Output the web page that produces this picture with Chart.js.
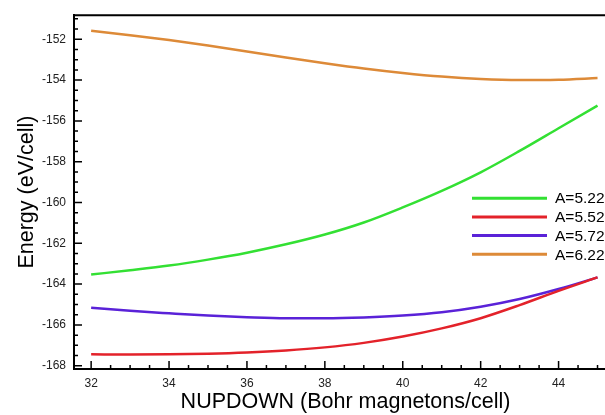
<!DOCTYPE html>
<html>
<head>
<meta charset="utf-8">
<script src="https://cdn.jsdelivr.net/npm/chart.js@4.4.0/dist/chart.umd.min.js"></script>
<style>
  html, body { margin: 0; padding: 0; overflow: hidden; background: #fff; }
  #wrap { position: absolute; left: 0; top: 0; width: 640px; height: 415px; }
</style>
</head>
<body>
<div id="wrap"><canvas id="mycanvas" width="640" height="415"></canvas></div>
<script>
// NUPDOWN values (x axis)
var nupdown = [32, 33, 34, 35, 36, 37, 38, 39, 40, 41, 42, 43, 44, 45];

// energies (eV/cell)
var a522 = [-163.53, -163.32, -163.09, -162.80, -162.46, -162.05, -161.57, -160.98, -160.24, -159.43, -158.52, -157.47, -156.36, -155.25];
var a552 = [-167.44, -167.45, -167.44, -167.41, -167.35, -167.25, -167.10, -166.88, -166.57, -166.17, -165.67, -165.03, -164.33, -163.67];
var a572 = [-165.16, -165.31, -165.43, -165.54, -165.62, -165.67, -165.67, -165.63, -165.54, -165.38, -165.11, -164.73, -164.24, -163.67];
var a622 = [-151.58, -151.80, -152.04, -152.31, -152.60, -152.89, -153.17, -153.43, -153.65, -153.83, -153.95, -154.00, -153.98, -153.90];

var seriesLabels = ['A=5.22', 'A=5.52', 'A=5.72', 'A=6.22'];
var seriesColors = ['#33e033', '#e3222a', '#5a22d8', '#dd8a38'];

var xTicks = [32, 34, 36, 38, 40, 42, 44];
var yTicks = [-168, -166, -164, -162, -160, -158, -156, -154, -152];

function points(ys) {
	var out = [];
	for (var i in nupdown) {
		out.push({x: nupdown[i], y: ys[i]});
	}
	return out;
}

var allSeries = [a522, a552, a572, a622];
var datasets = [];
for (var s = 0; s < allSeries.length; s++) {
	datasets.push({
		label: seriesLabels[s],
		data: points(allSeries[s]),
		borderColor: seriesColors[s],
		backgroundColor: seriesColors[s],
		borderWidth: 2.5,
		pointRadius: 0,
		fill: false,
		cubicInterpolationMode: 'monotone'
	});
}

// ticks drawn inward, plus the top frame line and the legend
var innerTicks = {
	id: 'innerTicks',
	afterDraw: function(chart) {
		var ctx = chart.ctx;
		var ca = chart.chartArea;
		var xs = chart.scales.x, ys = chart.scales.y;
		ctx.save();
		ctx.strokeStyle = '#000';
		ctx.lineWidth = 1.5;
		ctx.beginPath();
		for (var v = 32; v <= xs.max; v += 0.5) {
			var px = xs.getPixelForValue(v);
			var len = (v % 2 === 0) ? 8 : 4;
			ctx.moveTo(px, ca.bottom);
			ctx.lineTo(px, ca.bottom - len);
		}
		for (var w = -168; w <= ys.max; w += 0.5) {
			var py = ys.getPixelForValue(w);
			var len2 = (w % 2 === 0) ? 8 : 4;
			ctx.moveTo(ca.left, py);
			ctx.lineTo(ca.left + len2, py);
		}
		ctx.stroke();
		ctx.lineWidth = 2;
		ctx.beginPath();
		ctx.moveTo(ca.left, ca.top);
		ctx.lineTo(ca.right, ca.top);
		ctx.lineTo(ca.right, ca.bottom);
		ctx.stroke();

		ctx.font = '15.5px "Liberation Sans", Arial, sans-serif';
		ctx.textBaseline = 'middle';
		ctx.textAlign = 'left';
		for (var i = 0; i < chart.data.datasets.length; i++) {
			var ds = chart.data.datasets[i];
			var ly = ca.top + 183 + i * 18.7;
			ctx.strokeStyle = ds.borderColor;
			ctx.lineWidth = 3;
			ctx.beginPath();
			ctx.moveTo(ca.right - 145, ly);
			ctx.lineTo(ca.right - 70, ly);
			ctx.stroke();
			ctx.fillStyle = '#000';
			ctx.fillText(ds.label, ca.right - 62, ly + 1);
		}
		ctx.restore();
	}
};

var ctx = document.getElementById('mycanvas');

var energyChart = new Chart(ctx, {
	type: 'line',
	data: {datasets: datasets},
	plugins: [innerTicks],
	options: {
		responsive: false,
		animation: false,
		layout: {padding: {left: 0, top: 13, right: 23, bottom: 0}},
		plugins: {
			legend: {display: false},
			tooltip: {enabled: false}
		},
		scales: {
			x: {
				type: 'linear',
				min: 31.56,
				max: 45.5,
				afterBuildTicks: function(scale) {
					scale.ticks = xTicks.map(function(v) { return {value: v}; });
				},
				afterFit: function(scale) { scale.height = 46; },
				grid: {display: false, drawTicks: false},
				border: {display: true, color: '#000', width: 2},
				ticks: {
					padding: 7,
					maxRotation: 0,
					color: '#222',
					font: {family: '"Liberation Sans", Arial, sans-serif', size: 12}
				},
				title: {
					display: true,
					text: 'NUPDOWN (Bohr magnetons/cell)',
					color: '#000',
					padding: {top: 0, bottom: 0},
					font: {family: '"Liberation Sans", Arial, sans-serif', size: 21.5}
				}
			},
			y: {
				type: 'linear',
				min: -168.16,
				max: -150.82,
				afterBuildTicks: function(scale) {
					scale.ticks = yTicks.map(function(v) { return {value: v}; });
				},
				afterFit: function(scale) { scale.width = 74; },
				grid: {display: false, drawTicks: false},
				border: {display: true, color: '#000', width: 2},
				ticks: {
					padding: 8,
					color: '#222',
					font: {family: '"Liberation Sans", Arial, sans-serif', size: 12}
				},
				title: {
					display: true,
					text: 'Energy (eV/cell)',
					color: '#000',
					padding: {top: 14, bottom: 0},
					font: {family: '"Liberation Sans", Arial, sans-serif', size: 21.5}
				}
			}
		}
	}
});
</script>
</body>
</html>
